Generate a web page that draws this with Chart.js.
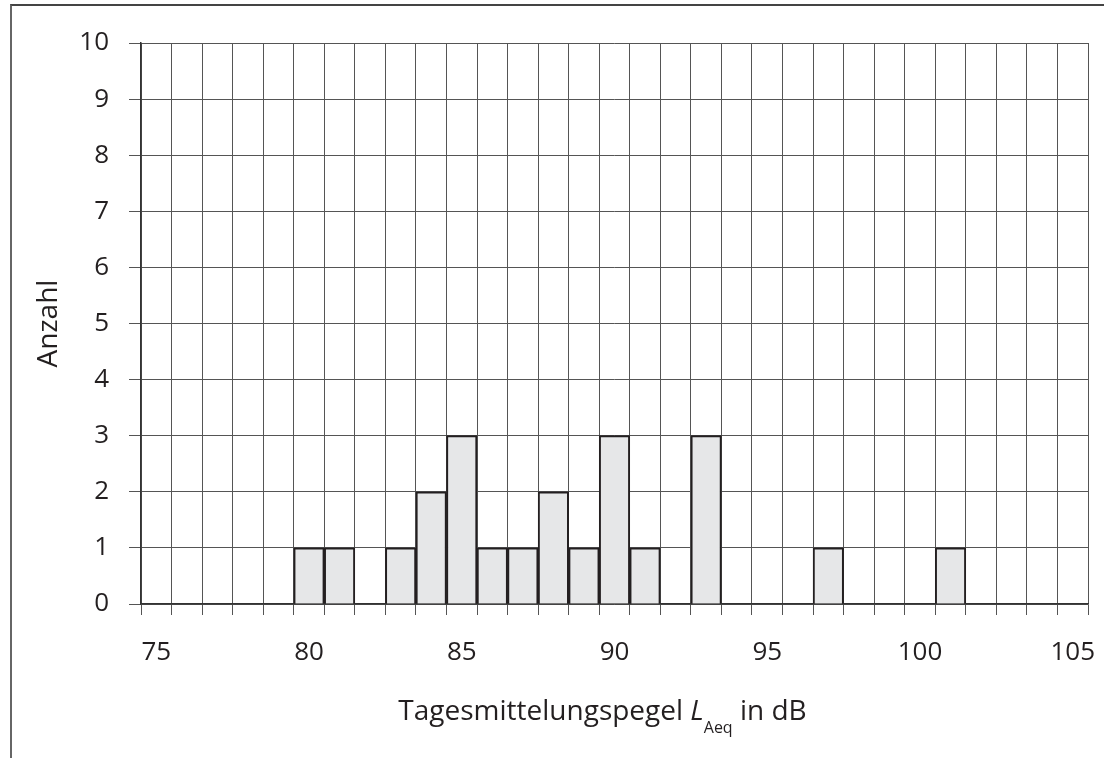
<!DOCTYPE html>
<html>
<head>
<meta charset="utf-8">
<script src="https://cdn.jsdelivr.net/npm/chart.js@4.4.0/dist/chart.umd.min.js"></script>
<style>
    body { margin: 0; background: #fff; }
    .rahmen {
        position: absolute;
        left: 10px;
        top: 4px;
        width: 1094px;
        height: 754px;
        border-left: 2px solid #666;
        border-top: 2px solid #444;
    }
    .contenedor { position: absolute; left: 0; top: 0; width: 1104px; height: 758px; }
</style>
</head>
<body>
<div class="rahmen"></div>
<div class="contenedor">
    <canvas id="histograma" width="1104" height="758"></canvas>
</div>
<script>
// Pegelklassen in dB (je 1 dB breit)
const pegel = [];
for (let p = 75; p <= 105; p++) pegel.push(p);

// Anzahl je Klasse
const anzahlWerte = {
    80: 1, 81: 1, 83: 1, 84: 2, 85: 3, 86: 1, 87: 1,
    88: 2, 89: 1, 90: 3, 91: 1, 93: 3, 97: 1, 101: 1
};
const anzahl = pegel.map(p => anzahlWerte[p] || 0);

// Beschriftete Werte der Achsen
const xBeschriftung = [75, 80, 85, 90, 95, 100, 105];
const yMax = 10;

document.addEventListener('DOMContentLoaded', function() {
    iniciarGrafica();
});

// Achsentitel unten mit kursivem L und tiefgestelltem Aeq
const tituloX = {
    id: 'tituloX',
    afterDraw(chart) {
        const ctx = chart.ctx;
        const area = chart.chartArea;
        const teile = [
            { t: 'Tagesmittelungspegel ', f: '28px "Open Sans"', dy: 0 },
            { t: 'L', f: 'italic 28px "Open Sans"', dy: 0 },
            { t: 'Aeq', f: '16px "Open Sans"', dy: 13 },
            { t: ' in dB', f: '28px "Open Sans"', dy: 0 }
        ];
        ctx.save();
        ctx.fillStyle = '#231f20';
        ctx.textBaseline = 'alphabetic';
        ctx.textAlign = 'left';
        let ancho = 0;
        teile.forEach(e => {
            ctx.font = e.f;
            e.w = ctx.measureText(e.t).width;
            ancho += e.w;
        });
        let x = (area.left + area.right) / 2 - 12 - ancho / 2;
        const y = 720;
        teile.forEach(e => {
            ctx.font = e.f;
            ctx.fillText(e.t, x, y + e.dy);
            x += e.w;
        });
        ctx.restore();
    }
};

function iniciarGrafica() {
    Chart.defaults.font.family = '"Open Sans", sans-serif';
    Chart.defaults.color = '#231f20';

    const ctx = document.getElementById('histograma').getContext('2d');
    let myChart = new Chart(ctx, {
        type: 'bar',
        data: {
            labels: pegel,
            datasets: [{
                label: 'Anzahl',
                data: anzahl,
                backgroundColor: '#e6e7e8',
                borderColor: '#231f20',
                borderWidth: 2,
                borderSkipped: 'bottom',
                barPercentage: 1,
                categoryPercentage: 1
            }]
        },
        options: {
            responsive: false,
            animation: false,
            layout: {
                padding: { left: 0, right: 16, top: 43, bottom: 0 }
            },
            plugins: {
                legend: { display: false },
                tooltip: { enabled: false }
            },
            scales: {
                x: {
                    offset: true,
                    grid: {
                        offset: true,
                        color: '#555',
                        lineWidth: 1,
                        tickLength: 11,
                        tickColor: '#555'
                    },
                    border: { color: '#333', width: 1.5 },
                    ticks: {
                        autoSkip: false,
                        maxRotation: 0,
                        padding: 22,
                        font: { size: 26 },
                        callback: function(valor, i) {
                            const p = pegel[i];
                            return xBeschriftung.includes(p) ? String(p) : '';
                        }
                    },
                    afterFit: function(escala) {
                        escala.height = 154;
                        escala.paddingLeft = 0;
                        escala.paddingRight = 0;
                    }
                },
                y: {
                    min: 0,
                    max: yMax,
                    ticks: {
                        stepSize: 1,
                        padding: 20,
                        font: { size: 26 }
                    },
                    grid: {
                        color: '#555',
                        lineWidth: 1,
                        tickLength: 12,
                        tickColor: '#555'
                    },
                    border: { color: '#333', width: 1.5 },
                    title: {
                        display: true,
                        text: 'Anzahl',
                        font: { size: 28 },
                        padding: { top: 32, bottom: 0 }
                    },
                    afterFit: function(escala) {
                        escala.width = 141;
                    }
                }
            }
        },
        plugins: [tituloX]
    });
}
</script>
</body>
</html>
